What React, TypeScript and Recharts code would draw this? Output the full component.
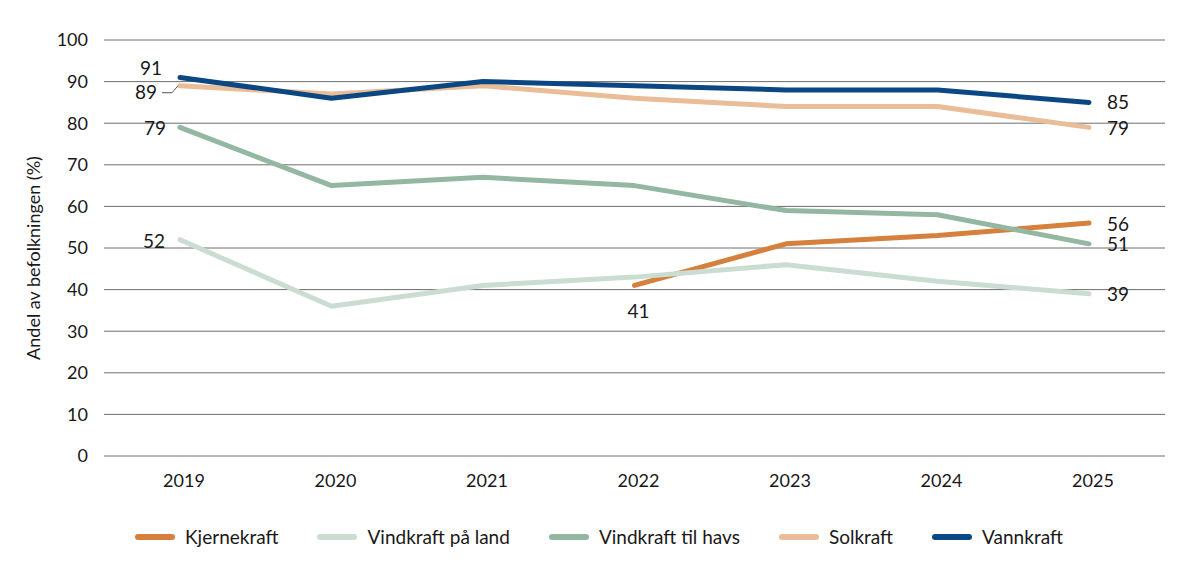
import React from "react";
import { LineChart, Line, XAxis, YAxis, CartesianGrid } from "recharts";

const years = ["2019", "2020", "2021", "2022", "2023", "2024", "2025"];
const kjernekraft = [null, null, null, 41, 51, 53, 56];
const vindLand = [52, 36, 41, 43, 46, 42, 39];
const vindHavs = [79, 65, 67, 65, 59, 58, 51];
const solkraft = [89, 87, 89, 86, 84, 84, 79];
const vannkraft = [91, 86, 90, 89, 88, 88, 85];
const yTicks = [0, 10, 20, 30, 40, 50, 60, 70, 80, 90, 100];

const series = [
  { key: "kjernekraft", name: "Kjernekraft", values: kjernekraft, color: "#d5803c" },
  { key: "vindLand", name: "Vindkraft på land", values: vindLand, color: "#cbddd2" },
  { key: "vindHavs", name: "Vindkraft til havs", values: vindHavs, color: "#93b7a1" },
  { key: "solkraft", name: "Solkraft", values: solkraft, color: "#e8bd98" },
  { key: "vannkraft", name: "Vannkraft", values: vannkraft, color: "#0b4783" },
];

const data = years.map((year, i) => {
  const row: any = { year };
  series.forEach((s) => {
    row[s.key] = s.values[i];
  });
  return row;
});

// label offsets (style only)
const labelOffsets: Record<string, Record<number, { dx: number; dy: number; leader?: boolean }>> = {
  kjernekraft: { 3: { dx: 4, dy: 25 }, 6: { dx: 29, dy: 0 } },
  vindLand: { 0: { dx: -26, dy: 1 }, 6: { dx: 29, dy: 0 } },
  vindHavs: { 0: { dx: -25, dy: 0 }, 6: { dx: 29, dy: 0 } },
  solkraft: { 0: { dx: -34, dy: 6, leader: true }, 6: { dx: 29, dy: 0 } },
  vannkraft: { 0: { dx: -29, dy: -10 }, 6: { dx: 29, dy: -1 } },
};

const FONT = "Lato, 'Open Sans', sans-serif";
const TEXT = "#1a1818";

const makeLabel = (key: string) => (props: any) => {
  const { x, y, index, value } = props;
  const spec = labelOffsets[key]?.[index];
  if (!spec || value == null) return null;
  return (
    <g key={`${key}-l-${index}`}>
      {spec.leader && (
        <path
          d={`M${x - 18},${y + 7} L${x - 8},${y + 7} L${x - 2},${y}`}
          stroke="#555"
          strokeWidth={1}
          fill="none"
        />
      )}
      <text
        x={x + spec.dx}
        y={y + spec.dy}
        textAnchor="middle"
        dominantBaseline="central"
        fontFamily={FONT}
        fontSize={19}
        fill={TEXT}
      >
        {value}
      </text>
    </g>
  );
};

const YLabel = () => (
  <text
    x={33}
    y={258}
    transform="rotate(-90, 33, 258)"
    textAnchor="middle"
    dominantBaseline="central"
    fontFamily={FONT}
    fontSize={18}
    fill={TEXT}
  >
    Andel av befolkningen (%)
  </text>
);

export default function App() {
  return (
    <div style={{ position: "absolute", left: 0, top: 0, width: 1198, height: 568, background: "#fff" }}>
      <LineChart
        width={1198}
        height={568}
        data={data}
        margin={{ top: 40, right: 33, bottom: 72, left: 0 }}
      >
        <CartesianGrid vertical={false} stroke="#6d6d6d" strokeWidth={1} />
        <XAxis
          dataKey="year"
          height={40}
          axisLine={false}
          tickLine={false}
          tickMargin={12}
          padding={{ left: 76, right: 76 }}
          tick={{ fontFamily: FONT, fontSize: 18, fill: TEXT, dx: 4 }}
          interval={0}
        />
        <YAxis
          width={104}
          domain={[0, 100]}
          ticks={yTicks}
          axisLine={false}
          tickLine={false}
          tickMargin={10}
          tick={{ fontFamily: FONT, fontSize: 18, fill: TEXT }}
          label={{ content: () => <YLabel /> }}
        />
        {series.map((s) => (
          <Line
            key={s.key}
            type="linear"
            dataKey={s.key}
            name={s.name}
            stroke={s.color}
            strokeWidth={5}
            strokeLinecap="round"
            strokeLinejoin="round"
            dot={false}
            activeDot={false}
            isAnimationActive={false}
            label={makeLabel(s.key)}
          />
        ))}
      </LineChart>
      <div
        style={{
          position: "absolute",
          left: 0,
          top: 525,
          width: 1198,
          height: 24,
          display: "flex",
          justifyContent: "center",
          alignItems: "center",
          gap: 39,
          fontFamily: FONT,
          fontSize: 19,
          color: TEXT,
        }}
      >
        {series.map((s) => (
          <div key={s.key} style={{ display: "flex", alignItems: "center", gap: 10 }}>
            <span
              style={{ display: "inline-block", width: 40, height: 6, borderRadius: 3, background: s.color }}
            />
            <span style={{ lineHeight: "24px" }}>{s.name}</span>
          </div>
        ))}
      </div>
    </div>
  );
}
